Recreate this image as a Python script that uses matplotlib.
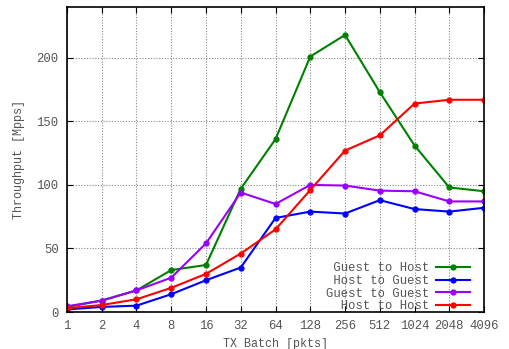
import numpy as np
import matplotlib.pyplot as plt

plt.rcParams['font.family'] = ['Liberation Mono', 'DejaVu Sans Mono']

batch = [1, 2, 4, 8, 16, 32, 64, 128, 256, 512, 1024, 2048, 4096]

guest_to_host = [4, 9, 17, 33, 37, 97, 136, 201, 218, 173, 131, 98, 95]
host_to_guest = [2, 4, 5, 14, 25, 35, 74, 79, 77.5, 88, 81, 79, 82]
guest_to_guest = [4.5, 9, 17, 27, 54, 94, 85, 100, 99.5, 95.5, 95, 87, 87]
host_to_host = [3, 5.5, 10, 19, 30, 46, 65, 96, 127, 139, 164, 167, 167]

series = [
    ("Guest to Host", guest_to_host, "#008000"),
    ("Host to Guest", host_to_guest, "#0000ff"),
    ("Guest to Guest", guest_to_guest, "#9900ff"),
    ("Host to Host", host_to_host, "#ff0000"),
]

fig = plt.figure(figsize=(5.09, 3.49), dpi=100)
ax = fig.add_axes([0.1316, 0.106, 0.8194, 0.874])

# monospace font, so right-align legend labels by left padding
width = max(len(s[0]) for s in series)
for label, vals, color in series:
    ax.plot(batch, vals, color=color, lw=1.5, marker='o', ms=3.5,
            label=label.rjust(width))

ax.set_xscale('log', base=2)
ax.set_xlim(1, 4096)
ax.set_ylim(0, 240)
ax.set_xticks(batch)
ax.set_xticklabels([str(b) for b in batch])
ax.set_yticks([0, 50, 100, 150, 200])
ax.minorticks_off()

ax.grid(True, color='#888888', linestyle=(0, (1, 1.5)), linewidth=0.8)
ax.tick_params(direction='in', top=True, right=True, length=4, colors='black',
               labelcolor='#555555', labelsize=8.8, pad=6)
for s in ax.spines.values():
    s.set_linewidth(1.2)

ax.set_xlabel("TX Batch [pkts]", color='#555555', fontsize=8.5)
ax.set_ylabel("Throughput [Mpps]", color='#555555', fontsize=8.5, labelpad=8)

leg = ax.legend(loc='lower right', frameon=False, markerfirst=False, fontsize=8.8,
                handlelength=2.8, labelspacing=0.05, borderaxespad=0.2,
                handletextpad=0.6, bbox_to_anchor=(0.985, -0.025))
for t in leg.get_texts():
    t.set_color('#555555')

fig.savefig('out.png', dpi=100)
